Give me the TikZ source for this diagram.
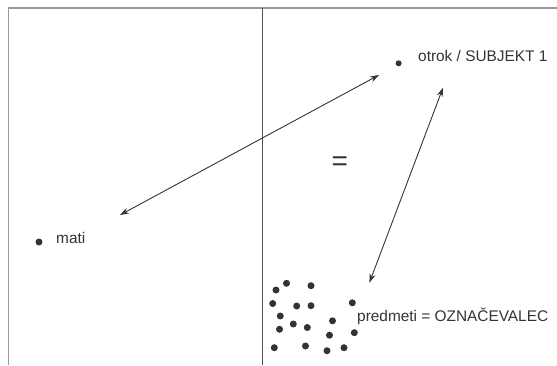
\documentclass[tikz,border=0pt]{standalone}
\usepackage{fontspec}
\setmainfont{Liberation Sans}
\usetikzlibrary{arrows.meta}
\definecolor{inkgray}{HTML}{333333}
\definecolor{framegray}{HTML}{9A9A9A}
\tikzset{
  dot/.style={circle,fill=inkgray,inner sep=0pt,minimum size=7pt},
  smalldot/.style={dot,minimum size=6pt},
  lbl/.style={anchor=base west,inner sep=0pt,text=inkgray,font=\fontsize{15.4}{18}\selectfont},
  link/.style={draw=inkgray,line width=0.9pt,{Stealth[length=9pt,width=6pt]}-{Stealth[length=9pt,width=6pt]}},
}
\begin{document}
\begin{tikzpicture}[x=1pt,y=-1pt]
\useasboundingbox (0,0) rectangle (557,365);

% frame and divider
\draw[framegray,line width=1.8pt] (8.5,365) -- (8.5,8) -- (557,8);
\draw[inkgray!85,line width=1.1pt] (262.7,8) -- (262.7,365);

% the three points
\node[smalldot] (otrok) at (398.6,63.3) {};
\node[lbl] (otroklbl) at (418,61.5) {otrok / SUBJEKT 1};
\node[dot] (mati) at (39,242) {};
\node[lbl] (matilbl) at (56,243) {mati};
\node[lbl] (predlbl) at (357,321) {predmeti = OZNAČEVALEC};
\node[text=inkgray,inner sep=0pt,font=\fontsize{28}{30}\selectfont] (eq) at (339.7,163.3) {=};

% cluster of objects
\foreach \px/\py [count=\i] in {276/290,286.5/283.3,311/285.7,272.7/303.5,296.7/306,311/305.7,
  352.3/302.8,280.3/316,293.3/324,307.3/327.5,279.5/329.3,332.5/320.8,329.5/335.2,354.3/332.7,
  274.3/347.7,305.5/346,327/350.7,344/347.7}
  \node[dot] (obj\i) at (\px,\py) {};

% arrow ends
\coordinate (m1) at (120,215);
\coordinate (o1) at (379,75);
\coordinate (o2) at (443,87.7);
\coordinate (p2) at (369.4,282.7);

\path[link] (m1) -- (o1);
\path[link] (p2) -- (o2);

\end{tikzpicture}
\end{document}
